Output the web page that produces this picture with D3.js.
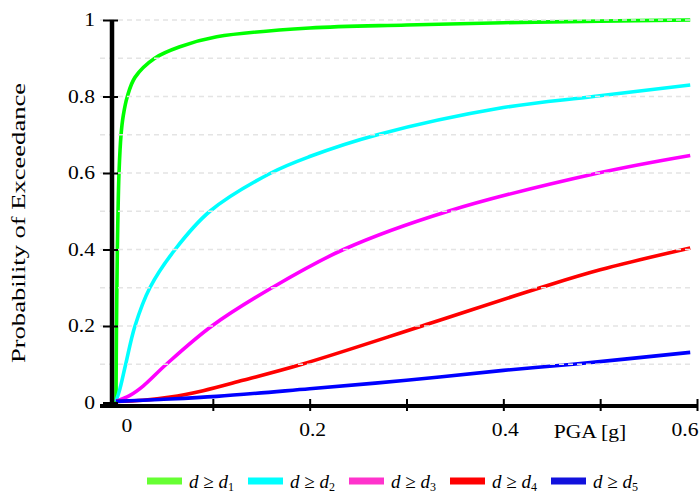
<!DOCTYPE html>
<html>
<head>
<meta charset="utf-8">
<script src="https://cdn.jsdelivr.net/npm/d3@7"></script>
<style>
  body { margin: 0; background: #fff; }
  text { font-family: "Liberation Serif", "DejaVu Serif", serif; fill: #000; }
</style>
</head>
<body>
<div id="chart"></div>
<script>
// fragility curves (PGA in g, probability)
var pgaD1 = [0, 0.0005, 0.0014, 0.0021, 0.0031, 0.0052, 0.0075, 0.0117, 0.0196, 0.040, 0.066, 0.104, 0.2, 0.3, 0.4, 0.5, 0.593];
var probD1 = [0, 0.2, 0.4, 0.5, 0.6, 0.7, 0.75, 0.8, 0.85, 0.9, 0.93, 0.956, 0.979, 0.987, 0.993, 0.997, 1.0];

var pgaD2 = [0, 0.004, 0.010, 0.0196, 0.035, 0.061, 0.097, 0.16, 0.2, 0.27, 0.4, 0.493, 0.593];
var probD2 = [0.003, 0.035, 0.1, 0.2, 0.3, 0.4, 0.5, 0.6, 0.643, 0.7, 0.771, 0.8, 0.83];

var pgaD3 = [0, 0.014, 0.028, 0.052, 0.099, 0.161, 0.235, 0.343, 0.498, 0.593];
var probD3 = [0.003, 0.018, 0.043, 0.1, 0.2, 0.3, 0.4, 0.5, 0.6, 0.646];

var pgaD4 = [0, 0.028, 0.056, 0.09, 0.131, 0.192, 0.316, 0.438, 0.5, 0.593];
var probD4 = [0.003, 0.006, 0.014, 0.031, 0.058, 0.1, 0.2, 0.3, 0.347, 0.404];

var pgaD5 = [0, 0.045, 0.104, 0.2, 0.3, 0.4, 0.472, 0.593];
var probD5 = [0.003, 0.008, 0.016, 0.036, 0.058, 0.084, 0.1, 0.131];

var seriesNames = ["1", "2", "3", "4", "5"];
var lineColors = ["#00ff00", "#00ffff", "#ff00ff", "#ff0000", "#0000ff"];
var legendColors = ["#66ff33", "#00ffff", "#ff33cc", "#ff0000", "#1111dd"];

var xTicks = [0.1, 0.2, 0.3, 0.4, 0.5, 0.6];
var xLabels = [0, 0.2, 0.4, 0.6];
var yTicks = [0, 0.2, 0.4, 0.6, 0.8, 1];
var yGrid = [0.1, 0.2, 0.3, 0.4, 0.5, 0.6, 0.7, 0.8, 0.9, 1];

var svgWidth = 699;
var svgHeight = 494;

var svg = d3.select("#chart")
    .append("svg")
    .attr("width", svgWidth)
    .attr("height", svgHeight);

var x = d3.scaleLinear().domain([0, 0.6]).range([116, 697]);
var y = d3.scaleLinear().domain([0, 1]).range([402.5, 20]);

var curves = [
    d3.zip(pgaD1, probD1),
    d3.zip(pgaD2, probD2),
    d3.zip(pgaD3, probD3),
    d3.zip(pgaD4, probD4),
    d3.zip(pgaD5, probD5)
];

var line = d3.line()
    .x(d => x(d[0]))
    .y(d => y(d[1]))
    .curve(d3.curveCatmullRom.alpha(0.5));

// curves
svg.append("g")
    .selectAll("path")
    .data(curves)
    .enter()
    .append("path")
    .attr("d", line)
    .attr("fill", "none")
    .attr("stroke", (d, i) => lineColors[i])
    .attr("stroke-width", 3.6);

// dashed gridlines (drawn over the curves like the original)
svg.append("g")
    .selectAll("line")
    .data(yGrid)
    .enter()
    .append("line")
    .attr("x1", 100)
    .attr("x2", 690)
    .attr("y1", d => y(d))
    .attr("y2", d => y(d))
    .attr("stroke", "#e4e4e4")
    .attr("stroke-width", 1.5)
    .attr("stroke-dasharray", "5,4");

// x axis
var xAxisY = 406;
var xAxisG = svg.append("g")
    .attr("transform", `translate(0, ${xAxisY})`)
    .call(d3.axisBottom(x).tickValues(xTicks).tickSize(6).tickFormat(""));
xAxisG.select(".domain").remove();
xAxisG.selectAll(".tick line")
    .attr("y1", -7)
    .attr("y2", 5)
    .attr("stroke", "#000")
    .attr("stroke-width", 2);
svg.append("line")
    .attr("x1", 100).attr("x2", 698)
    .attr("y1", xAxisY).attr("y2", xAxisY)
    .attr("stroke", "#000")
    .attr("stroke-width", 4);

var labelShift = [11, 3, 2, -12];
var labelBase = [432, 436, 436, 436];
var xLabelG = svg.append("g")
    .call(d3.axisBottom(x).tickValues(xLabels).tickSize(0).tickFormat(d3.format("")));
xLabelG.select(".domain").remove();
xLabelG.selectAll(".tick").attr("transform", (d, i) => `translate(${x(d) + labelShift[i]}, 0)`);
xLabelG.selectAll(".tick text")
    .attr("y", 0)
    .attr("dy", null)
    .attr("transform", (d, i) => `translate(0, ${labelBase[i]}) scale(1.2, 1)`)
    .style("font-size", "18px")
    .style("font-family", "Liberation Serif, serif");

svg.append("text")
    .attr("transform", "translate(590, 438) scale(1.2, 1)")
    .attr("text-anchor", "middle")
    .style("font-size", "18px")
    .text("PGA [g]");

// y axis
var yAxisX = 112;
var yAxisG = svg.append("g")
    .attr("transform", `translate(${yAxisX}, 0)`)
    .call(d3.axisLeft(y).tickValues(yTicks).tickSize(8).tickFormat(d3.format("")));
yAxisG.select(".domain").remove();
yAxisG.selectAll(".tick line")
    .attr("x1", -9)
    .attr("x2", 6)
    .attr("stroke", "#000")
    .attr("stroke-width", 2);
yAxisG.selectAll(".tick text")
    .attr("x", 0)
    .attr("dy", "0.33em")
    .attr("transform", "translate(-17, 0) scale(1.2, 1)")
    .style("font-size", "18px")
    .style("font-family", "Liberation Serif, serif");
svg.append("line")
    .attr("x1", yAxisX).attr("x2", yAxisX)
    .attr("y1", y(1)).attr("y2", xAxisY + 2)
    .attr("stroke", "#000")
    .attr("stroke-width", 4.5);

svg.append("text")
    .attr("transform", "translate(25, 223) rotate(-90)")
    .attr("text-anchor", "middle")
    .attr("textLength", 280)
    .attr("lengthAdjust", "spacingAndGlyphs")
    .style("font-size", "18px")
    .text("Probability of Exceedance");

// legend
var legend = svg.append("g")
    .selectAll("g")
    .data(seriesNames)
    .enter()
    .append("g")
    .attr("transform", (d, i) => `translate(${147 + i * 101}, 481)`);

legend.append("rect")
    .attr("x", 0)
    .attr("y", -3.5)
    .attr("width", 35)
    .attr("height", 7)
    .attr("fill", (d, i) => legendColors[i]);

var lt = legend.append("text")
    .attr("x", 42)
    .attr("y", 7)
    .style("font-size", "19px");
lt.append("tspan").style("font-style", "italic").text("d");
lt.append("tspan").text(" \u2265 ");
lt.append("tspan").style("font-style", "italic").text("d");
lt.append("tspan")
    .attr("dy", 3)
    .style("font-size", "12px")
    .text(d => d);
</script>
</body>
</html>
